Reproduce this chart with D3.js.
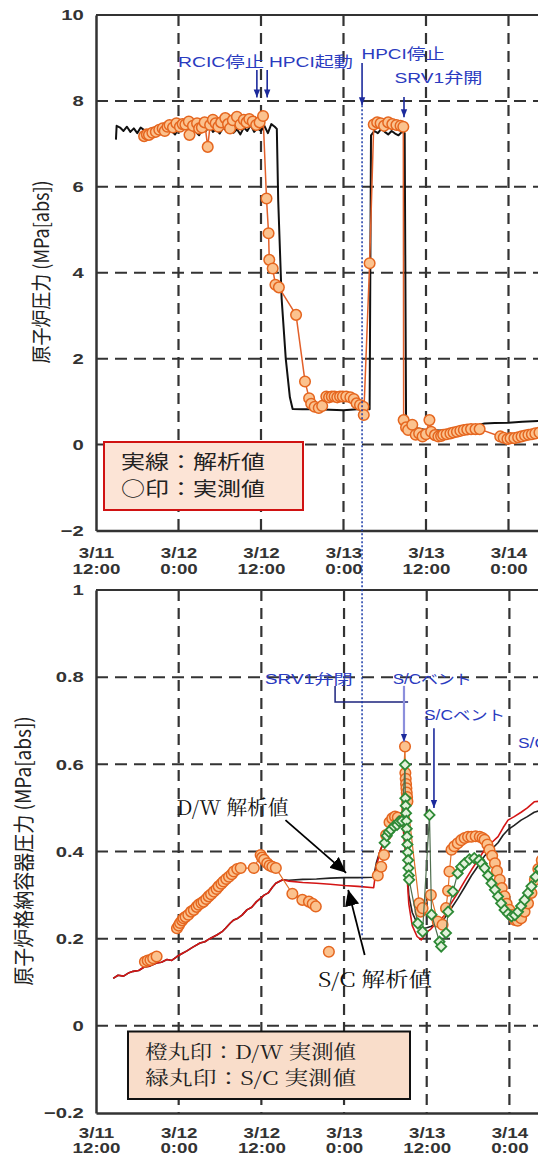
<!DOCTYPE html>
<html>
<head>
<meta charset="utf-8">
<script src="https://cdn.jsdelivr.net/npm/d3@7"></script>
<style>
  body { margin: 0; background: #fff; }
  svg { display: block; }
</style>
</head>
<body>
<svg id="chart" width="538" height="1158"></svg>
<script>
(function () {
    var width = 538, height = 1158;

    // time axis: hours after 3/11 12:00
    const timeTicks = [0, 12, 24, 36, 48, 60];
    const timeLabels = [["3/11", "12:00"], ["3/12", "0:00"], ["3/12", "12:00"], ["3/13", "0:00"], ["3/13", "12:00"], ["3/14", "0:00"]];

    const rpvTicks = [-2, 0, 2, 4, 6, 8, 10];
    const pcvTicks = [-0.2, 0, 0.2, 0.4, 0.6, 0.8, 1];

    // top: reactor pressure, analysis (solid black)
    const rpvCalcT = [2.9, 3.0, 3.5, 4.0, 4.5, 5.0, 5.5, 6.0, 6.5, 7.0, 7.5, 8.0, 8.5, 9.0, 9.5, 10.0, 10.5, 11.0, 11.5, 12.0,
        12.5, 13.0, 13.5, 14.0, 14.5, 15.0, 15.5, 16.0, 16.5, 17.0, 17.5, 18.0, 18.5, 19.0, 19.5, 20.0, 20.5, 21.0, 21.5, 22.0,
        22.5, 23.0, 23.5, 24.0, 24.5, 25.0, 25.5, 26.0, 26.3, 26.5, 27.0, 27.6, 28.2, 28.6, 30, 32, 34, 36, 38, 39.8,
        40.0, 40.5, 41.0, 41.5, 42.0, 42.5, 43.0, 43.5, 44.0, 44.5, 44.9, 45.1, 46, 48, 50, 52, 54, 55.5, 56.5, 58, 60, 62, 64.6];
    const rpvCalcP = [7.10, 7.42, 7.38, 7.30, 7.40, 7.28, 7.36, 7.25, 7.38, 7.32, 7.22, 7.35, 7.28, 7.40, 7.30, 7.26, 7.38, 7.30, 7.22, 7.36,
        7.30, 7.40, 7.26, 7.34, 7.28, 7.20, 7.36, 7.30, 7.42, 7.28, 7.34, 7.24, 7.38, 7.30, 7.40, 7.26, 7.34, 7.22, 7.38, 7.30,
        7.44, 7.28, 7.36, 7.30, 7.42, 7.25, 7.46, 7.40, 7.35, 5.70, 3.40, 2.00, 1.10, 0.83, 0.82, 0.82, 0.81, 0.80, 0.82, 0.82,
        7.20, 7.30, 7.25, 7.35, 7.28, 7.22, 7.30, 7.24, 7.20, 7.28, 7.25, 0.60, 0.40, 0.34, 0.33, 0.34, 0.38, 0.45, 0.49, 0.50, 0.51, 0.53, 0.55];

    // top: reactor pressure, measured (orange circles)
    const rpvMeasT = [7.0, 7.4, 7.7, 8.2, 8.7, 9.2, 9.7, 10.0, 10.4, 10.7, 11.2, 11.7, 12.2, 12.6, 13.0, 13.5, 13.6, 14.1, 14.7, 15.0,
        15.4, 15.8, 16.25, 16.6, 17.0, 17.4, 17.8, 18.2, 18.8, 19.2, 19.5, 19.9, 20.5, 21.0, 21.5, 21.9, 22.3, 22.8, 23.3, 23.8,
        24.3, 24.8, 25.1, 25.2, 25.7, 26.1, 26.6, 29.1, 30.4, 31.0, 31.3, 31.8, 32.4, 32.9, 33.5, 33.9, 34.3, 34.7, 35.1, 35.5,
        35.9, 36.4, 37.0, 37.5, 37.9, 38.4, 38.9, 38.95, 39.8, 40.4, 40.9, 41.4, 41.9, 42.5, 43.1, 43.7, 44.3, 44.7, 44.75, 45.1,
        45.4, 46.0, 46.5, 47.0, 47.5, 48.0, 48.5, 48.75, 49.3, 49.8, 50.2, 50.5, 51.0, 51.55, 52.0, 52.5, 53.0, 53.5, 54.0, 54.55,
        55.2, 55.8, 58.8, 59.3, 59.85, 60.3, 60.85, 61.4, 61.9, 62.4, 62.9, 63.4, 63.9, 64.5];
    const rpvMeasP = [7.18, 7.22, 7.21, 7.26, 7.28, 7.33, 7.36, 7.30, 7.40, 7.44, 7.38, 7.48, 7.40, 7.46, 7.45, 7.52, 7.21, 7.42, 7.48, 7.36,
        7.38, 7.50, 6.93, 7.44, 7.56, 7.48, 7.40, 7.50, 7.60, 7.46, 7.36, 7.55, 7.63, 7.45, 7.56, 7.50, 7.58, 7.52, 7.44, 7.50,
        7.65, 5.73, 4.92, 4.30, 4.10, 3.72, 3.66, 3.02, 1.47, 1.08, 0.95, 0.88, 0.85, 0.90, 1.12, 1.10, 1.12, 1.12, 1.10, 1.12,
        1.12, 1.12, 1.10, 1.06, 0.96, 0.92, 0.88, 0.69, 4.22, 7.45, 7.50, 7.48, 7.42, 7.50, 7.46, 7.44, 7.42, 7.40, 0.57, 0.40,
        0.34, 0.46, 0.23, 0.26, 0.19, 0.24, 0.57, 0.30, 0.22, 0.19, 0.20, 0.23, 0.24, 0.26, 0.28, 0.30, 0.32, 0.34, 0.35, 0.36,
        0.36, 0.36, 0.19, 0.16, 0.13, 0.15, 0.15, 0.17, 0.19, 0.21, 0.23, 0.24, 0.26, 0.28];

    // bottom: containment pressure, analysis (D/W black, S/C red)
    const pcvCalcT = [2.5, 3.2, 4.0, 4.8, 5.4, 6.2, 7.0, 7.8, 8.8, 9.5, 10.3, 11.0, 11.75, 12.5, 13.2, 14.0, 15.1, 15.8, 16.5, 17.6,
        18.3, 18.8, 19.5, 20.0, 20.6, 21.2, 21.9, 22.6, 23.3, 24.0, 24.4, 25.0, 25.6, 26.1, 26.6, 27.1,
        28, 30, 32, 34, 36, 38, 40.3, 40.7, 41.2, 42, 43, 43.8, 44.5, 45.0, 45.4, 45.9, 46.6, 47.2, 48.0, 48.6,
        49.5, 50.5, 51.5, 52.5, 53.5, 54.5, 55.5, 56.4, 57.4, 58.35, 59.1, 59.8, 60.7, 61.7, 62.6, 63.6, 64.6];
    const dwCalcP = [0.109, 0.116, 0.114, 0.122, 0.125, 0.127, 0.135, 0.137, 0.144, 0.146, 0.152, 0.150, 0.159, 0.166, 0.172, 0.180, 0.190, 0.193, 0.200, 0.209,
        0.216, 0.224, 0.236, 0.243, 0.247, 0.254, 0.266, 0.272, 0.285, 0.294, 0.300, 0.305, 0.318, 0.327, 0.331, 0.335,
        0.334, 0.336, 0.337, 0.339, 0.340, 0.340, 0.341, 0.375, 0.400, 0.430, 0.455, 0.468, 0.472, 0.400, 0.300, 0.260, 0.235, 0.222, 0.225, 0.228,
        0.236, 0.245, 0.268, 0.292, 0.318, 0.345, 0.368, 0.390, 0.405, 0.420, 0.438, 0.450, 0.460, 0.472, 0.480, 0.490, 0.495];
    const scCalcP = [0.109, 0.116, 0.114, 0.122, 0.125, 0.127, 0.135, 0.137, 0.144, 0.146, 0.152, 0.150, 0.159, 0.166, 0.172, 0.180, 0.190, 0.193, 0.200, 0.209,
        0.216, 0.224, 0.236, 0.243, 0.247, 0.254, 0.266, 0.272, 0.285, 0.294, 0.300, 0.305, 0.318, 0.327, 0.331, 0.335,
        0.332, 0.329, 0.327, 0.325, 0.322, 0.320, 0.317, 0.365, 0.400, 0.432, 0.458, 0.470, 0.470, 0.380, 0.280, 0.230, 0.205, 0.197, 0.215, 0.222,
        0.238, 0.252, 0.280, 0.305, 0.332, 0.358, 0.382, 0.404, 0.420, 0.434, 0.455, 0.472, 0.480, 0.490, 0.500, 0.514, 0.516];

    // bottom: D/W measured (orange circles), null = gap in record
    const dwMeasT = [7.1, 7.5, 7.9, 8.3, 8.8, 9.0, 11.75, 12.0, 12.2, 12.5, 12.7, 13.0, 13.4, 13.8, 14.2, 14.6, 14.9, 15.3, 15.6, 16.0,
        16.35, 16.7, 17.1, 17.5, 17.8, 18.2, 18.5, 18.9, 19.3, 19.7, 20.0, 20.5, 21.0, 22.9, 23.9, 24.1, 24.4, 24.85, 25.2, 25.6,
        26.1, 28.5, 29.95, 30.9, 31.45, 31.9, 32.5, 33.8, 34.5, 40.9, 41.4, 41.8, 42.1, 42.6, 43.0, 43.4, 43.8, 44.3, 44.85, 44.9,
        44.95, 45.0, 45.05, 45.1, 45.15, 45.2, 46.9, 47.1, 47.4, 48.6, 49.6, 50.3, 50.8, 51.1, 51.3, 51.6, 52.0, 52.5, 53.0, 53.5,
        54.0, 54.5, 55.1, 55.7, 56.1, 56.4, 56.8, 57.1, 57.5, 57.9, 58.2, 58.6, 58.9, 59.3, 59.6, 60.0, 60.4, 60.8, 61.2, 61.7,
        62.2, 62.7, 63.2, 63.7, 64.2, 64.7];
    const dwMeasP = [0.147, 0.150, 0.151, 0.155, 0.159, null, 0.224, 0.230, 0.236, 0.242, 0.247, 0.250, 0.255, 0.262, 0.266, 0.273, 0.278, 0.282, 0.285, 0.291,
        0.297, 0.302, 0.308, 0.314, 0.320, 0.326, 0.331, 0.337, 0.342, 0.348, 0.354, 0.360, 0.362, 0.362, 0.392, 0.386, 0.381, 0.373, 0.368, 0.365,
        0.362, 0.303, 0.289, 0.285, 0.280, 0.274, null, 0.170, null, 0.345, 0.365, 0.392, 0.438, 0.467, 0.476, 0.480, 0.478, 0.470, 0.641, 0.580,
        0.567, 0.555, 0.545, 0.535, 0.525, 0.515, 0.281, 0.262, 0.270, 0.300, 0.239, 0.232, 0.270, 0.310, 0.354, 0.404, 0.412, 0.419, 0.426, 0.431,
        0.434, 0.434, 0.435, 0.434, 0.431, 0.427, 0.416, 0.404, 0.390, 0.373, 0.355, 0.335, 0.316, 0.297, 0.280, 0.266, 0.254, 0.243, 0.241, 0.247,
        0.262, 0.281, 0.305, 0.335, 0.360, 0.380];

    // bottom: S/C measured (green diamonds)
    const scMeasT = [41.9, 42.2, 42.5, 42.8, 43.25, 43.7, 44.0, 44.4, 44.85, 44.9, 44.95, 45.0, 45.05, 45.1, 45.15, 45.2, 45.25, 45.3, 45.35, 45.4,
        45.45, 46.7, 47.4, 48.4, 48.7, 49.85, 50.1, 50.8, 51.1, 51.8, 52.5, 53.0, 53.5, 54.2, 54.9, 55.6, 56.0, 56.4, 56.9, 57.4,
        57.9, 58.35, 58.8, 59.3, 59.8, 60.3, 60.8, 61.25, 61.7, 62.2, 62.7, 63.2, 63.8, 64.4];
    const scMeasP = [0.420, 0.436, 0.445, 0.450, 0.458, 0.461, 0.469, 0.470, 0.599, 0.522, 0.505, 0.488, 0.470, 0.452, 0.434, 0.416, 0.398, 0.380, 0.362, 0.345,
        0.335, 0.235, 0.216, 0.484, 0.255, 0.193, 0.182, 0.213, 0.262, 0.308, 0.350, 0.365, 0.373, 0.382, 0.385, 0.380, 0.372, 0.362, 0.345, 0.327,
        0.312, 0.297, 0.281, 0.266, 0.257, 0.251, 0.254, 0.262, 0.275, 0.289, 0.305, 0.320, 0.342, 0.360];

    // event times (hours after 3/11 12:00)
    const rcicStop = 23.4, hpciStart = 24.9, hpciStop = 38.7, srvOpen = 44.8, srvClose = 34.7, scVent1 = 44.7, scVent2 = 49.05;

    const SANS = "'Liberation Sans', Arial, 'Noto Sans CJK JP', sans-serif";
    const GOTHIC = "'Noto Sans CJK JP', 'Liberation Sans', sans-serif";
    const SERIF = "'Noto Serif CJK JP', 'Liberation Serif', 'Noto Sans CJK JP', serif";
    const BLUE = "#2a3bc0";

    const svg = d3.select("#chart");

    const xTop = d3.scaleLinear().domain([0, 72]).range([96, 96 + 72 * 6.875]);
    const yTop = d3.scaleLinear().domain([-2, 10]).range([530.5, 15]);
    const xBot = d3.scaleLinear().domain([0, 72]).range([96, 96 + 72 * 6.89]);
    const yBot = d3.scaleLinear().domain([-0.2, 1]).range([1113, 590]);

    //arrow heads
    const defs = svg.append("defs");
    defs.append("marker").attr("id", "hb").attr("viewBox", "0 0 10 10")
        .attr("refX", 10).attr("refY", 5).attr("markerUnits", "userSpaceOnUse")
        .attr("markerWidth", 8).attr("markerHeight", 8).attr("orient", "auto")
        .append("path").attr("d", "M0,1 L10,5 L0,9 z").attr("fill", "#1c2a9c");
    defs.append("marker").attr("id", "hk").attr("viewBox", "0 0 10 10")
        .attr("refX", 10).attr("refY", 5).attr("markerUnits", "userSpaceOnUse")
        .attr("markerWidth", 16).attr("markerHeight", 16).attr("orient", "auto")
        .append("path").attr("d", "M0,0.5 L10,5 L0,9.5 z").attr("fill", "#000");

    function txt(g, s, x, y, o) {
        o = o || {};
        const t = g.append("text")
            .attr("transform", `translate(${x},${y}) scale(${o.sx || 1},1)` + (o.rot ? ` rotate(${o.rot})` : ""))
            .attr("text-anchor", o.anchor || "start")
            .attr("dominant-baseline", "central")
            .attr("font-family", o.family || SANS)
            .attr("font-size", o.size || 14)
            .attr("font-weight", o.weight || "normal")
            .attr("fill", o.fill || "#000")
            .text(s);
        if (o.len) t.attr("textLength", o.len).attr("lengthAdjust", "spacingAndGlyphs");
        return t;
    }

    function panel(x, y, ticks, fmt, labelY) {
        const g = svg.append("g");
        const top = y.range()[1], bottom = y.range()[0];

        g.append("g").selectAll("line").data(ticks.slice(1, -1)).join("line")
            .attr("x1", x(0)).attr("x2", width)
            .attr("y1", d => y(d)).attr("y2", d => y(d))
            .attr("stroke", "#333").attr("stroke-width", 2).attr("stroke-dasharray", "12,7");
        g.append("g").selectAll("line").data(timeTicks.slice(1)).join("line")
            .attr("x1", d => x(d)).attr("x2", d => x(d))
            .attr("y1", top).attr("y2", bottom)
            .attr("stroke", "#333").attr("stroke-width", 2.2).attr("stroke-dasharray", "11,7");
        g.append("line").attr("x1", x(0)).attr("x2", width).attr("y1", top).attr("y2", top)
            .attr("stroke", "#333").attr("stroke-width", 2);

        const ya = g.append("g").attr("transform", `translate(${x(0)},0)`)
            .call(d3.axisLeft(y).tickValues(ticks).tickSize(0).tickSizeOuter(0).tickPadding(9).tickFormat(fmt));
        ya.select(".domain").attr("stroke", "#333").attr("stroke-width", 2.5);
        ya.selectAll(".tick text").attr("font-family", SANS).attr("font-size", 15)
            .attr("font-weight", "bold").attr("fill", "#333").attr("transform", "scale(1.35,1)");

        const xa = g.append("g").attr("transform", `translate(0,${bottom})`)
            .call(d3.axisBottom(x).tickValues(timeTicks).tickSize(0).tickSizeOuter(0).tickFormat(""));
        xa.select(".domain").attr("stroke", "#333").attr("stroke-width", 2.5);
        xa.selectAll(".tick text").each(function (d, i) {
            const t = d3.select(this).attr("dy", null).attr("y", null)
                .attr("font-family", SANS).attr("font-size", 15).attr("font-weight", "bold")
                .attr("fill", "#333").attr("dominant-baseline", "central").attr("transform", "scale(1.25,1)");
            t.append("tspan").attr("x", 0).attr("y", labelY[0]).text(timeLabels[i][0]);
            t.append("tspan").attr("x", 0).attr("y", labelY[1]).text(timeLabels[i][1]);
        });
        return g;
    }

    function series(g, x, y, t, v, color, w) {
        const line = d3.line().defined(d => d[1] != null).x(d => x(d[0])).y(d => y(d[1]));
        g.append("path").datum(d3.zip(t, v)).attr("d", line)
            .attr("fill", "none").attr("stroke", color).attr("stroke-width", w).attr("stroke-linejoin", "round");
    }

    function circles(g, x, y, t, v) {
        g.append("g").selectAll("circle").data(d3.zip(t, v).filter(d => d[1] != null)).join("circle")
            .attr("cx", d => x(d[0])).attr("cy", d => y(d[1])).attr("r", 5.3)
            .attr("fill", "#fbc28e").attr("stroke", "#e5661f").attr("stroke-width", 1.5);
    }

    // ---------- top panel ----------
    const gt = panel(xTop, yTop, rpvTicks, d3.format("d"), [22, 38]);
    series(gt, xTop, yTop, rpvCalcT, rpvCalcP, "#111", 2);
    series(gt, xTop, yTop, rpvMeasT, rpvMeasP, "#e2602a", 1.5);
    circles(gt, xTop, yTop, rpvMeasT, rpvMeasP);

    txt(gt, "RCIC停止", 178, 61.7, { size: 15, fill: BLUE, len: 86 });
    txt(gt, "HPCI起動", 269, 61.7, { size: 15, fill: BLUE, len: 84 });
    txt(gt, "HPCI停止", 361.6, 53.3, { size: 15, fill: BLUE, len: 83 });
    txt(gt, "SRV1弁開", 394.5, 77.3, { size: 15, fill: BLUE, len: 88 });

    const topArrows = [[rcicStop, 8.72, 8.08], [hpciStart, 8.72, 8.08], [hpciStop, 8.88, 7.9], [srvOpen, 8.09, 7.62]];
    gt.append("g").selectAll("line").data(topArrows).join("line")
        .attr("x1", d => xTop(d[0])).attr("x2", d => xTop(d[0]))
        .attr("y1", d => yTop(d[1])).attr("y2", d => yTop(d[2]))
        .attr("stroke", "#1c2a9c").attr("stroke-width", 1.6).attr("marker-end", "url(#hb)");

    gt.append("rect").attr("x", 104).attr("y", 442).attr("width", 199).attr("height", 68)
        .attr("fill", "#fce4d6").attr("stroke", "#d01212").attr("stroke-width", 2);
    txt(gt, "実線：解析値", 121, 460, { size: 19, family: GOTHIC, fill: "#222", len: 144 });
    txt(gt, "○印：実測値", 121, 487, { size: 19, family: GOTHIC, fill: "#222", len: 144 });

    txt(svg, "原子炉圧力 (MPa[abs])", 40, 272, { size: 18, family: GOTHIC, fill: "#222", anchor: "middle", sx: 1.15, rot: -90 });

    // ---------- bottom panel ----------
    const gb = panel(xBot, yBot, pcvTicks, d => d === 0 ? "0" : d3.format(".1f")(d).replace(/\.0$/, ""), [20, 35]);
    series(gb, xBot, yBot, pcvCalcT, dwCalcP, "#222", 1.6);
    series(gb, xBot, yBot, pcvCalcT, scCalcP, "#d41515", 1.6);
    series(gb, xBot, yBot, dwMeasT, dwMeasP, "#e2702a", 1.2);
    circles(gb, xBot, yBot, dwMeasT, dwMeasP);
    series(gb, xBot, yBot, scMeasT, scMeasP, "#4f6f4f", 1.2);
    gb.append("g").selectAll("path").data(d3.zip(scMeasT, scMeasP)).join("path")
        .attr("d", d3.symbol(d3.symbolSquare, 52))
        .attr("transform", d => `translate(${xBot(d[0])},${yBot(d[1])}) rotate(45)`)
        .attr("fill", "#e4f2dc").attr("stroke", "#2e8a36").attr("stroke-width", 1.8);

    // event annotations
    txt(gb, "SRV1弁閉", 264.7, 679, { size: 14, fill: BLUE, len: 88 });
    txt(gb, "S/Cベント", 392.7, 679, { size: 14, fill: BLUE, len: 79 });
    txt(gb, "S/Cベント", 424, 715, { size: 14, fill: BLUE, len: 81 });
    txt(gb, "S/Cベント", 518, 743, { size: 14, fill: BLUE, len: 81 });

    gb.append("path")
        .attr("d", d3.line()([[xBot(srvClose), yBot(0.78)], [xBot(srvClose), yBot(0.743)], [xBot(45.3), yBot(0.743)]]))
        .attr("fill", "none").attr("stroke", "#1c237e").attr("stroke-width", 1.5);
    gb.append("line").attr("x1", xBot(scVent1)).attr("x2", xBot(scVent1))
        .attr("y1", yBot(0.78)).attr("y2", yBot(0.652))
        .attr("stroke", "#8c8fdc").attr("stroke-width", 2.2).attr("marker-end", "url(#hb)");
    gb.append("line").attr("x1", xBot(scVent2)).attr("x2", xBot(scVent2))
        .attr("y1", yBot(0.683)).attr("y2", yBot(0.5))
        .attr("stroke", "#1c2a9c").attr("stroke-width", 1.6).attr("marker-end", "url(#hb)");

    // analysis labels
    txt(gb, "D/W 解析値", 176.5, 806.7, { size: 20, family: SERIF, fill: "#111", len: 112 });
    txt(gb, "S/C 解析値", 318, 978, { size: 20, family: SERIF, fill: "#111", len: 114 });
    gb.append("line").attr("x1", xBot(27.5)).attr("y1", yBot(0.472)).attr("x2", xBot(36.3)).attr("y2", yBot(0.351))
        .attr("stroke", "#000").attr("stroke-width", 1.8).attr("marker-end", "url(#hk)");
    gb.append("line").attr("x1", xBot(39.0)).attr("y1", yBot(0.1625)).attr("x2", xBot(36.6)).attr("y2", yBot(0.312))
        .attr("stroke", "#000").attr("stroke-width", 1.8).attr("marker-end", "url(#hk)");

    gb.append("rect").attr("x", 128).attr("y", 1031.5).attr("width", 282).attr("height", 67.5)
        .attr("fill", "#f9ddca").attr("stroke", "#111").attr("stroke-width", 2);
    txt(gb, "橙丸印：D/W 実測値", 145, 1050, { size: 19, family: SERIF, fill: "#222", len: 211 });
    txt(gb, "緑丸印：S/C 実測値", 145, 1076, { size: 19, family: SERIF, fill: "#222", len: 211 });

    txt(svg, "原子炉格納容器圧力 (MPa[abs])", 22, 851, { size: 19, family: GOTHIC, fill: "#222", anchor: "middle", sx: 1.1, rot: -90 });

    // HPCI stop marker line across both panels
    svg.append("line").attr("x1", xTop(hpciStop)).attr("x2", xTop(hpciStop))
        .attr("y1", yTop(7.9)).attr("y2", yBot(0.208))
        .attr("stroke", "#1a3aa8").attr("stroke-width", 1.5).attr("stroke-dasharray", "2,2");
})();
</script>
</body>
</html>
